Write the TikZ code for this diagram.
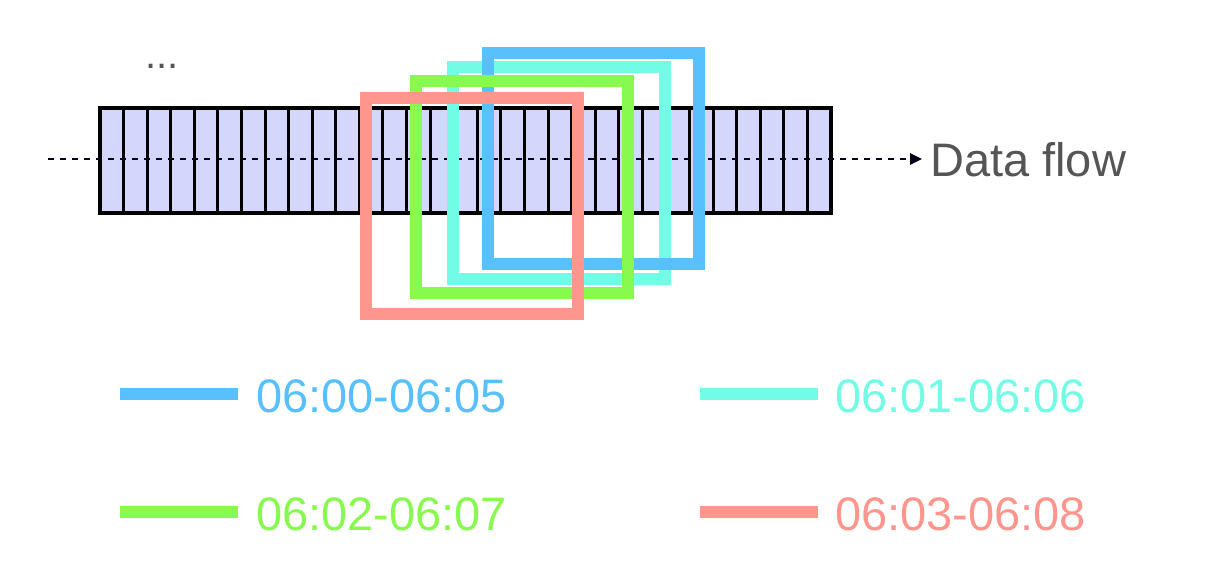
\documentclass[tikz,border=0pt]{standalone}
\usepackage{fontspec}
\setmainfont{Liberation Sans}
\usetikzlibrary{arrows.meta}
\definecolor{cblue}{HTML}{58C0FC}
\definecolor{ccyan}{HTML}{72FCE6}
\definecolor{cgreen}{HTML}{88F94E}
\definecolor{cred}{HTML}{FE968E}
\definecolor{cell}{HTML}{D4D6FC}
\definecolor{txt}{HTML}{555555}
\begin{document}
\begin{tikzpicture}[x=1pt,y=-1pt,
  win/.style={line width=12pt},
  lab/.style={anchor=west,inner sep=0pt,font=\fontsize{47}{50}\selectfont}]
\useasboundingbox (0,0) rectangle (1226,572);
\fill[cell] (100,108) rectangle (831,213);
\foreach \i in {1,...,30} \draw[line width=3pt] ({100+\i*23.58},108) -- ({100+\i*23.58},213);
\draw[line width=3.5pt] (100,108) rectangle (831,213);
\coordinate (s) at (48,159);
\coordinate (e) at (922,159);
\draw[line width=2.5pt,dash pattern=on 6pt off 6pt,-{Triangle[length=12pt,width=11pt]},color=black!90!blue] (s) -- (e);
\node[lab,text=txt] (df) at (930,160) {Data flow};
\node[text=txt,font=\fontsize{40}{40}\selectfont,inner sep=0pt] (dots) at (162,66) {...};
\draw[win,ccyan] (453,67) rectangle (665,279);
\draw[win,cblue] (488,53) rectangle (699,264);
\draw[win,cgreen] (416,81) rectangle (628,293);
\draw[win,cred] (366,98) rectangle (578,314);
\coordinate (l1a) at (120,394); \coordinate (l1b) at (238,394);
\coordinate (l2a) at (700,394); \coordinate (l2b) at (818,394);
\coordinate (l3a) at (120,512); \coordinate (l3b) at (238,512);
\coordinate (l4a) at (700,512); \coordinate (l4b) at (818,512);
\draw[win,cblue] (l1a) -- (l1b);
\draw[win,ccyan] (l2a) -- (l2b);
\draw[win,cgreen] (l3a) -- (l3b);
\draw[win,cred] (l4a) -- (l4b);
\node[lab,text=cblue] (t1) at (256,396) {06:00-06:05};
\node[lab,text=ccyan] (t2) at (835,396) {06:01-06:06};
\node[lab,text=cgreen] (t3) at (256,514) {06:02-06:07};
\node[lab,text=cred] (t4) at (835,514) {06:03-06:08};
\end{tikzpicture}
\end{document}
